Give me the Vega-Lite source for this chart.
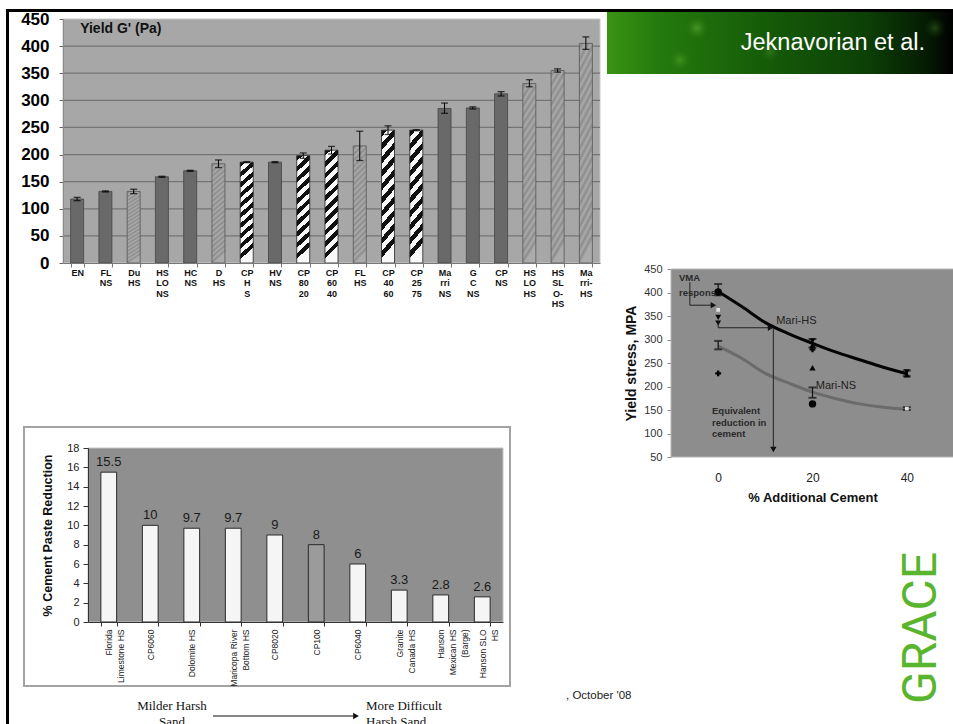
{
  "$schema": "https://vega.github.io/schema/vega-lite/v6.json",
  "width": 953,
  "height": 724,
  "autosize": {"type": "none"},
  "padding": 0,
  "background": "white",
  "config": {"font": "Liberation Sans", "view": {"stroke": null}},
  "resolve": {"scale": {"x": "independent", "y": "independent", "color": "independent"}, "axis": {"x": "independent", "y": "independent"}},
  "layer": [
    {
      "data": {"values": [{}]},
      "layer": [
        {"mark": {"type": "rect", "color": "#000000"},
         "encoding": {"x": {"datum": 6, "type": "quantitative", "scale": {"domain": [0, 953], "range": [0, 953], "nice": false, "zero": false}, "axis": null}, "x2": {"datum": 953},
                      "y": {"datum": 9, "type": "quantitative", "scale": {"domain": [0, 724], "range": [0, 724], "nice": false, "zero": false}, "axis": null}, "y2": {"datum": 12}}},
        {"mark": {"type": "rect", "color": "#000000"},
         "encoding": {"x": {"datum": 6, "type": "quantitative"}, "x2": {"datum": 9}, "y": {"datum": 9, "type": "quantitative"}, "y2": {"datum": 724}}},
        {"mark": {"type": "rect", "fill": {"gradient": "linear", "x1": 0, "y1": 0, "x2": 1, "y2": 0, "stops": [
            {"offset": 0, "color": "#3a9414"}, {"offset": 0.15, "color": "#247a0d"}, {"offset": 0.45, "color": "#165c08"}, {"offset": 0.75, "color": "#0c4006"}, {"offset": 0.92, "color": "#051c03"}, {"offset": 1, "color": "#000000"}]}},
         "encoding": {"x": {"datum": 607, "type": "quantitative"}, "x2": {"datum": 953}, "y": {"datum": 12, "type": "quantitative"}, "y2": {"datum": 74}}},
        {"mark": {"type": "point", "shape": "circle", "filled": true, "size": 500, "strokeWidth": 0, "opacity": 1,
            "fill": {"gradient": "radial", "x1": 0.5, "y1": 0.5, "r1": 0, "x2": 0.5, "y2": 0.5, "r2": 0.5, "stops": [{"offset": 0, "color": "rgba(120,200,70,0.45)"}, {"offset": 1, "color": "rgba(60,140,25,0)"}]}},
         "encoding": {"x": {"datum": 697, "type": "quantitative"}, "y": {"datum": 28, "type": "quantitative"}}},
        {"mark": {"type": "point", "shape": "circle", "filled": true, "size": 450, "strokeWidth": 0, "opacity": 1,
            "fill": {"gradient": "radial", "x1": 0.5, "y1": 0.5, "r1": 0, "x2": 0.5, "y2": 0.5, "r2": 0.5, "stops": [{"offset": 0, "color": "rgba(120,200,70,0.35)"}, {"offset": 1, "color": "rgba(60,140,25,0)"}]}},
         "encoding": {"x": {"datum": 680, "type": "quantitative"}, "y": {"datum": 60, "type": "quantitative"}}},
        {"mark": {"type": "point", "shape": "circle", "filled": true, "size": 450, "strokeWidth": 0, "opacity": 1,
            "fill": {"gradient": "radial", "x1": 0.5, "y1": 0.5, "r1": 0, "x2": 0.5, "y2": 0.5, "r2": 0.5, "stops": [{"offset": 0, "color": "rgba(90,160,50,0.35)"}, {"offset": 1, "color": "rgba(40,100,20,0)"}]}},
         "encoding": {"x": {"datum": 935, "type": "quantitative"}, "y": {"datum": 28, "type": "quantitative"}}},
        {"mark": {"type": "point", "shape": "circle", "filled": true, "size": 450, "strokeWidth": 0, "opacity": 1,
            "fill": {"gradient": "radial", "x1": 0.5, "y1": 0.5, "r1": 0, "x2": 0.5, "y2": 0.5, "r2": 0.5, "stops": [{"offset": 0, "color": "rgba(100,180,60,0.3)"}, {"offset": 1, "color": "rgba(40,100,20,0)"}]}},
         "encoding": {"x": {"datum": 770, "type": "quantitative"}, "y": {"datum": 52, "type": "quantitative"}}},
        {"mark": {"type": "text", "text": "Jeknavorian et al.", "align": "right", "baseline": "middle", "fontSize": 23.5, "color": "#ffffff"},
         "encoding": {"x": {"datum": 925, "type": "quantitative"}, "y": {"datum": 43, "type": "quantitative"}}},
        {"mark": {"type": "rect", "fill": "#ffffff", "stroke": "#a3a3a3", "strokeWidth": 2},
         "encoding": {"x": {"datum": 24, "type": "quantitative"}, "x2": {"datum": 510}, "y": {"datum": 427, "type": "quantitative"}, "y2": {"datum": 686}}},
        {"mark": {"type": "text", "text": ["Milder Harsh", "Sand"], "font": "Liberation Serif", "fontSize": 13, "align": "center", "baseline": "top", "lineHeight": 15.5, "color": "#111111"},
         "encoding": {"x": {"datum": 172, "type": "quantitative"}, "y": {"datum": 700, "type": "quantitative"}}},
        {"mark": {"type": "text", "text": ["More Difficult", "Harsh  Sand"], "font": "Liberation Serif", "fontSize": 13, "align": "left", "baseline": "top", "lineHeight": 15.5, "color": "#111111"},
         "encoding": {"x": {"datum": 366, "type": "quantitative"}, "y": {"datum": 700, "type": "quantitative"}}},
        {"mark": {"type": "rule", "color": "#111111", "strokeWidth": 1.2},
         "encoding": {"x": {"datum": 213, "type": "quantitative"}, "x2": {"datum": 353}, "y": {"datum": 716, "type": "quantitative"}}},
        {"mark": {"type": "point", "shape": "triangle-right", "filled": true, "size": 45, "color": "#111111", "opacity": 1},
         "encoding": {"x": {"datum": 356, "type": "quantitative"}, "y": {"datum": 716, "type": "quantitative"}}},
        {"mark": {"type": "text", "text": ", October '08", "fontSize": 11.5, "align": "left", "baseline": "middle", "color": "#222222"},
         "encoding": {"x": {"datum": 566, "type": "quantitative"}, "y": {"datum": 696, "type": "quantitative"}}},
        {"mark": {"type": "text", "text": "GRACE", "angle": 270, "align": "center", "baseline": "middle", "font": "Roboto", "fontSize": 48, "fontWeight": 400, "color": "#5ab52e"},
         "encoding": {"x": {"datum": 922, "type": "quantitative"}, "y": {"datum": 628, "type": "quantitative"}}}
      ]
    },
    {
      "layer": [
        {"data": {"values": [{}]},
         "mark": {"type": "rect", "fill": "#a7a7a7", "stroke": "#c8c8c8", "strokeWidth": 1},
         "encoding": {"x": {"datum": 0, "type": "quantitative", "scale": {"domain": [0, 1], "range": [63, 600], "nice": false, "zero": false}, "axis": null}, "x2": {"datum": 1},
                      "y": {"datum": 0, "type": "quantitative", "scale": {"domain": [0, 450], "range": [263, 19], "nice": false, "zero": false}, "axis": null}, "y2": {"datum": 450}}},
        {"data": {"values": [{"g": 50}, {"g": 100}, {"g": 150}, {"g": 200}, {"g": 250}, {"g": 300}, {"g": 350}, {"g": 400}]},
         "mark": {"type": "rule", "color": "#747474", "strokeWidth": 1.3},
         "encoding": {"x": {"datum": 0, "type": "quantitative", "axis": null}, "x2": {"datum": 1}, "y": {"field": "g", "type": "quantitative", "axis": null}}}
      ]
    },
    {
      "data": {"values": [
        {"sample": "EN", "series": "NS", "yield": 118, "lo": 115, "hi": 121},
        {"sample": "FL|NS", "series": "NS", "yield": 132, "lo": 131, "hi": 133},
        {"sample": "Du|HS", "series": "HS", "yield": 132, "lo": 128, "hi": 136},
        {"sample": "HS|LO|NS", "series": "NS", "yield": 159, "lo": 158, "hi": 160},
        {"sample": "HC|NS", "series": "NS", "yield": 170, "lo": 169, "hi": 171},
        {"sample": "D|HS", "series": "HS", "yield": 183, "lo": 176, "hi": 190},
        {"sample": "CP|H|S", "series": "CP", "yield": 186, "lo": 185, "hi": 187},
        {"sample": "HV|NS", "series": "NS", "yield": 186, "lo": 185, "hi": 187},
        {"sample": "CP|80|20", "series": "CP", "yield": 198, "lo": 193, "hi": 203},
        {"sample": "CP|60|40", "series": "CP", "yield": 208, "lo": 201, "hi": 215},
        {"sample": "FL|HS", "series": "HS", "yield": 216, "lo": 189, "hi": 243},
        {"sample": "CP|40|60", "series": "CP", "yield": 245, "lo": 237, "hi": 253},
        {"sample": "CP|25|75", "series": "CP", "yield": 245, "lo": 244, "hi": 246},
        {"sample": "Ma|rri|NS", "series": "NS", "yield": 285, "lo": 276, "hi": 295},
        {"sample": "G|C|NS", "series": "NS", "yield": 286, "lo": 284, "hi": 288},
        {"sample": "CP|NS", "series": "NS", "yield": 312, "lo": 308, "hi": 316},
        {"sample": "HS|LO|HS", "series": "HS", "yield": 331, "lo": 325, "hi": 338},
        {"sample": "HS|SL|O-|HS", "series": "HS", "yield": 355, "lo": 352, "hi": 358},
        {"sample": "Ma|rri-|HS", "series": "HS", "yield": 405, "lo": 394, "hi": 417}
      ]},
      "encoding": {
        "x": {
          "field": "sample", "type": "nominal",
          "scale": {"domain": ["EN","FL|NS","Du|HS","HS|LO|NS","HC|NS","D|HS","CP|H|S","HV|NS","CP|80|20","CP|60|40","FL|HS","CP|40|60","CP|25|75","Ma|rri|NS","G|C|NS","CP|NS","HS|LO|HS","HS|SL|O-|HS","Ma|rri-|HS"], "range": [63, 600], "paddingInner": 0.54, "paddingOuter": 0.27},
          "axis": {"orient": "bottom", "offset": -461, "zindex": 1, "title": null, "labelAngle": 0, "labelExpr": "datum.value ? split(datum.value, '|') : ''", "labelFontSize": 9, "labelFontWeight": "bold", "labelColor": "#111111", "labelLineHeight": 10.5, "labelPadding": 1, "labelBaseline": "top", "tickBand": "extent", "tickSize": 4, "tickColor": "#777777", "domainColor": "#777777"}
        }
      },
      "layer": [
        {
          "transform": [{"filter": "datum.series === 'NS'"}],
          "mark": {"type": "bar", "fill": "#696969", "stroke": "#454545", "strokeWidth": 0.8},
          "encoding": {"y": {"field": "yield", "type": "quantitative", "scale": {"domain": [0, 450], "range": [263, 19], "nice": false},
            "axis": {"orient": "left", "offset": -63, "zindex": 1, "title": null, "values": [0,50,100,150,200,250,300,350,400,450], "grid": false, "labelFontSize": 17, "labelFontWeight": "bold", "labelColor": "#000000", "tickSize": 4, "tickColor": "#666666", "labelPadding": 10, "domainColor": "#8a8a8a"}}}
        },
        {
          "transform": [{"filter": "datum.series === 'HS'"}],
          "mark": {"type": "bar", "stroke": "#555555", "strokeWidth": 0.8, "fill": {"gradient": "linear", "x1": 0, "y1": 0, "x2": 0.113, "y2": 1, "stops": [
            {"offset": 0, "color": "#ababab"},{"offset": 0.025, "color": "#8c8c8c"},{"offset": 0.05, "color": "#ababab"},{"offset": 0.075, "color": "#8c8c8c"},
            {"offset": 0.1, "color": "#ababab"},{"offset": 0.125, "color": "#8c8c8c"},{"offset": 0.15, "color": "#ababab"},{"offset": 0.175, "color": "#8c8c8c"},
            {"offset": 0.2, "color": "#ababab"},{"offset": 0.225, "color": "#8c8c8c"},{"offset": 0.25, "color": "#ababab"},{"offset": 0.275, "color": "#8c8c8c"},
            {"offset": 0.3, "color": "#ababab"},{"offset": 0.325, "color": "#8c8c8c"},{"offset": 0.35, "color": "#ababab"},{"offset": 0.375, "color": "#8c8c8c"},
            {"offset": 0.4, "color": "#ababab"},{"offset": 0.425, "color": "#8c8c8c"},{"offset": 0.45, "color": "#ababab"},{"offset": 0.475, "color": "#8c8c8c"},
            {"offset": 0.5, "color": "#ababab"},{"offset": 0.525, "color": "#8c8c8c"},{"offset": 0.55, "color": "#ababab"},{"offset": 0.575, "color": "#8c8c8c"},
            {"offset": 0.6, "color": "#ababab"},{"offset": 0.625, "color": "#8c8c8c"},{"offset": 0.65, "color": "#ababab"},{"offset": 0.675, "color": "#8c8c8c"},
            {"offset": 0.7, "color": "#ababab"},{"offset": 0.725, "color": "#8c8c8c"},{"offset": 0.75, "color": "#ababab"},{"offset": 0.775, "color": "#8c8c8c"},
            {"offset": 0.8, "color": "#ababab"},{"offset": 0.825, "color": "#8c8c8c"},{"offset": 0.85, "color": "#ababab"},{"offset": 0.875, "color": "#8c8c8c"},
            {"offset": 0.9, "color": "#ababab"},{"offset": 0.925, "color": "#8c8c8c"},{"offset": 0.95, "color": "#ababab"},{"offset": 0.975, "color": "#8c8c8c"},
            {"offset": 1, "color": "#ababab"}]}},
          "encoding": {"y": {"field": "yield", "type": "quantitative"}}
        },
        {
          "transform": [{"filter": "datum.series === 'CP'"}],
          "mark": {"type": "bar", "stroke": "#222222", "strokeWidth": 0.8, "fill": {"gradient": "linear", "x1": 0, "y1": 0, "x2": 0.113, "y2": 1, "stops": [
            {"offset": 0, "color": "#111111"},{"offset": 0.05, "color": "#111111"},{"offset": 0.05, "color": "#f8f8f8"},{"offset": 0.1, "color": "#f8f8f8"},
            {"offset": 0.1, "color": "#111111"},{"offset": 0.15, "color": "#111111"},{"offset": 0.15, "color": "#f8f8f8"},{"offset": 0.2, "color": "#f8f8f8"},
            {"offset": 0.2, "color": "#111111"},{"offset": 0.25, "color": "#111111"},{"offset": 0.25, "color": "#f8f8f8"},{"offset": 0.3, "color": "#f8f8f8"},
            {"offset": 0.3, "color": "#111111"},{"offset": 0.35, "color": "#111111"},{"offset": 0.35, "color": "#f8f8f8"},{"offset": 0.4, "color": "#f8f8f8"},
            {"offset": 0.4, "color": "#111111"},{"offset": 0.45, "color": "#111111"},{"offset": 0.45, "color": "#f8f8f8"},{"offset": 0.5, "color": "#f8f8f8"},
            {"offset": 0.5, "color": "#111111"},{"offset": 0.55, "color": "#111111"},{"offset": 0.55, "color": "#f8f8f8"},{"offset": 0.6, "color": "#f8f8f8"},
            {"offset": 0.6, "color": "#111111"},{"offset": 0.65, "color": "#111111"},{"offset": 0.65, "color": "#f8f8f8"},{"offset": 0.7, "color": "#f8f8f8"},
            {"offset": 0.7, "color": "#111111"},{"offset": 0.75, "color": "#111111"},{"offset": 0.75, "color": "#f8f8f8"},{"offset": 0.8, "color": "#f8f8f8"},
            {"offset": 0.8, "color": "#111111"},{"offset": 0.85, "color": "#111111"},{"offset": 0.85, "color": "#f8f8f8"},{"offset": 0.9, "color": "#f8f8f8"},
            {"offset": 0.9, "color": "#111111"},{"offset": 0.95, "color": "#111111"},{"offset": 0.95, "color": "#f8f8f8"},{"offset": 1, "color": "#f8f8f8"}]}},
          "encoding": {"y": {"field": "yield", "type": "quantitative"}}
        },
        {
          "mark": {"type": "rule", "color": "#000000", "strokeWidth": 1},
          "encoding": {"y": {"field": "lo", "type": "quantitative"}, "y2": {"field": "hi"}}
        },
        {
          "mark": {"type": "tick", "color": "#000000", "thickness": 1.3, "size": 7, "orient": "horizontal"},
          "encoding": {"y": {"field": "lo", "type": "quantitative"}}
        },
        {
          "mark": {"type": "tick", "color": "#000000", "thickness": 1.3, "size": 7, "orient": "horizontal"},
          "encoding": {"y": {"field": "hi", "type": "quantitative"}}
        },
        {
          "data": {"values": [{"t": "Yield G' (Pa)"}]},
          "mark": {"type": "text", "align": "left", "baseline": "middle", "fontSize": 14, "fontWeight": "bold", "color": "#111111", "dx": 3},
          "encoding": {"x": {"datum": "EN", "type": "nominal"}, "y": {"datum": 432, "type": "quantitative"}, "text": {"field": "t"}}
        }
      ]
    },
    {
      "layer": [
        {"data": {"values": [{}]},
         "mark": {"type": "rect", "fill": "#8f8f8f", "stroke": "#c4c4c4", "strokeWidth": 1},
         "encoding": {"x": {"datum": 0, "type": "quantitative", "scale": {"domain": [0, 1], "range": [88, 503], "nice": false, "zero": false}, "axis": null}, "x2": {"datum": 1},
                      "y": {"datum": 0, "type": "quantitative", "scale": {"domain": [0, 18], "range": [622, 448], "nice": false, "zero": false}, "axis": null}, "y2": {"datum": 18}}}
      ]
    },
    {
      "data": {"values": [
        {"site": "Florida|Limestone HS", "reduction": 15.5},
        {"site": "CP6060", "reduction": 10},
        {"site": "Dolomite HS", "reduction": 9.7},
        {"site": "Maricopa River|Bottom HS", "reduction": 9.7},
        {"site": "CP8020", "reduction": 9},
        {"site": "CP100", "reduction": 8},
        {"site": "CP6040", "reduction": 6},
        {"site": "Granite|Canada HS", "reduction": 3.3},
        {"site": "Hanson|Mexican HS|(Barge)", "reduction": 2.8},
        {"site": "Hanson SLO|HS", "reduction": 2.6}
      ]},
      "encoding": {
        "x": {"field": "site", "type": "nominal", "sort": null, "scale": {"range": [88, 503], "paddingInner": 0.62, "paddingOuter": 0.31},
          "axis": {"orient": "bottom", "offset": -102, "zindex": 1, "title": null, "labelAngle": -90, "labelAlign": "right", "labelBaseline": "middle", "labelExpr": "datum.value ? split(datum.value, '|') : ''", "labelFontSize": 8.5, "labelColor": "#222222", "labelLineHeight": 12, "labelPadding": 3, "labelLimit": 0, "tickBand": "extent", "tickSize": 4, "tickColor": "#333333", "domainColor": "#333333"}},
        "y": {"field": "reduction", "type": "quantitative", "scale": {"domain": [0, 18], "range": [622, 448], "nice": false},
          "axis": {"orient": "left", "offset": -88, "zindex": 1, "values": [0,2,4,6,8,10,12,14,16,18], "title": "% Cement Paste Reduction", "titleFontSize": 12.5, "titleFontWeight": "bold", "titleColor": "#111111", "titlePadding": 12, "labelFontSize": 11, "labelColor": "#222222", "labelPadding": 4, "tickSize": 5, "tickColor": "#333333", "domainColor": "#333333", "grid": false}}
      },
      "layer": [
        {
          "mark": {"type": "bar", "stroke": "#2a2a2a", "strokeWidth": 1},
          "encoding": {"color": {"condition": {"test": "datum.site === 'CP100'", "value": "#9b9b9b"}, "value": "#f5f5f5"}}
        },
        {
          "mark": {"type": "text", "dy": -10, "fontSize": 13, "color": "#1a1a1a", "baseline": "middle"},
          "encoding": {"text": {"field": "reduction", "type": "quantitative", "format": "~g"}}
        }
      ]
    },
    {
      "layer": [
        {
          "data": {"values": [{}]},
          "mark": {"type": "rect", "fill": "#8d8d8d", "stroke": "#b5b5b5", "strokeWidth": 1},
          "encoding": {"x": {"datum": -10, "type": "quantitative"}, "x2": {"datum": 50}, "y": {"datum": 50, "type": "quantitative"}, "y2": {"datum": 450}}
        },
        {
          "data": {"values": [
            {"series": "Mari-HS", "x": 0, "y": 402}, {"series": "Mari-HS", "x": 5, "y": 370}, {"series": "Mari-HS", "x": 10, "y": 336},
            {"series": "Mari-HS", "x": 15, "y": 312}, {"series": "Mari-HS", "x": 20, "y": 292}, {"series": "Mari-HS", "x": 25, "y": 273},
            {"series": "Mari-HS", "x": 30, "y": 257}, {"series": "Mari-HS", "x": 35, "y": 241}, {"series": "Mari-HS", "x": 40, "y": 227},
            {"series": "Mari-NS", "x": 0, "y": 286}, {"series": "Mari-NS", "x": 5, "y": 260}, {"series": "Mari-NS", "x": 10, "y": 228},
            {"series": "Mari-NS", "x": 15, "y": 207}, {"series": "Mari-NS", "x": 20, "y": 188}, {"series": "Mari-NS", "x": 25, "y": 174},
            {"series": "Mari-NS", "x": 30, "y": 163}, {"series": "Mari-NS", "x": 35, "y": 156}, {"series": "Mari-NS", "x": 40, "y": 152}
          ]},
          "mark": {"type": "line", "interpolate": "monotone", "strokeWidth": 3},
          "encoding": {
            "x": {"field": "x", "type": "quantitative", "scale": {"domain": [-10, 50], "range": [671, 954], "nice": false, "zero": false},
              "axis": {"orient": "bottom", "offset": -267, "values": [0, 20, 40], "ticks": false, "domain": false, "grid": false, "labelFontSize": 12, "labelColor": "#222222", "labelPadding": 15, "title": "% Additional  Cement", "titleFontSize": 13, "titleFontWeight": "bold", "titleColor": "#111111", "titlePadding": 8}},
            "y": {"field": "y", "type": "quantitative", "scale": {"domain": [50, 450], "range": [457, 269], "nice": false, "zero": false},
              "axis": {"orient": "left", "offset": -671, "values": [50,100,150,200,250,300,350,400,450], "grid": false, "domain": false, "tickSize": 4, "tickColor": "#888888", "labelFontSize": 11, "labelColor": "#333333", "labelPadding": 5, "title": "Yield stress, MPA", "titleFontSize": 14, "titleFontWeight": "bold", "titleColor": "#111111", "titlePadding": 5}},
            "color": {"field": "series", "type": "nominal", "scale": {"domain": ["Mari-HS", "Mari-NS"], "range": ["#050505", "#6b6b6b"]}, "legend": null}
          }
        },
        {
          "data": {"values": [
            {"x": 0, "lo": 394, "hi": 418}, {"x": 20, "lo": 283, "hi": 301}, {"x": 40, "lo": 222, "hi": 234},
            {"x": 0, "lo": 279, "hi": 297}, {"x": 20, "lo": 176, "hi": 198}, {"x": 40, "lo": 150, "hi": 156}
          ]},
          "layer": [
            {"mark": {"type": "rule", "color": "#111111", "strokeWidth": 1.2}, "encoding": {"x": {"field": "x", "type": "quantitative"}, "y": {"field": "lo", "type": "quantitative"}, "y2": {"field": "hi"}}},
            {"mark": {"type": "tick", "orient": "horizontal", "size": 8, "thickness": 2, "color": "#111111"}, "encoding": {"x": {"field": "x", "type": "quantitative"}, "y": {"field": "lo", "type": "quantitative"}}},
            {"mark": {"type": "tick", "orient": "horizontal", "size": 8, "thickness": 2, "color": "#111111"}, "encoding": {"x": {"field": "x", "type": "quantitative"}, "y": {"field": "hi", "type": "quantitative"}}}
          ]
        },
        {
          "data": {"values": [{"x": 0, "y": 401}, {"x": 20, "y": 163}]},
          "mark": {"type": "point", "shape": "circle", "filled": true, "size": 55, "color": "#050505", "opacity": 1},
          "encoding": {"x": {"field": "x", "type": "quantitative"}, "y": {"field": "y", "type": "quantitative"}}
        },
        {
          "data": {"values": [{"x": 0, "y": 347}, {"x": 0, "y": 335}, {"x": 20, "y": 297}, {"x": 40, "y": 231}]},
          "mark": {"type": "point", "shape": "triangle-down", "filled": true, "size": 35, "color": "#050505", "opacity": 1},
          "encoding": {"x": {"field": "x", "type": "quantitative"}, "y": {"field": "y", "type": "quantitative"}}
        },
        {
          "data": {"values": [{"x": 20, "y": 240}, {"x": 20, "y": 288}, {"x": 40, "y": 225}]},
          "mark": {"type": "point", "shape": "triangle-up", "filled": true, "size": 40, "color": "#050505", "opacity": 1},
          "encoding": {"x": {"field": "x", "type": "quantitative"}, "y": {"field": "y", "type": "quantitative"}}
        },
        {
          "data": {"values": [{"x": 0, "y": 228}, {"x": 20, "y": 279}]},
          "mark": {"type": "point", "shape": "cross", "filled": true, "size": 35, "color": "#050505", "opacity": 1},
          "encoding": {"x": {"field": "x", "type": "quantitative"}, "y": {"field": "y", "type": "quantitative"}}
        },
        {
          "data": {"values": [{"x": 0, "y": 363}, {"x": 40, "y": 153}]},
          "mark": {"type": "point", "shape": "square", "filled": true, "size": 14, "color": "#dddddd", "opacity": 1},
          "encoding": {"x": {"field": "x", "type": "quantitative"}, "y": {"field": "y", "type": "quantitative"}}
        },
        {
          "data": {"values": [
            {"x": -6, "y": 422, "x2": -6, "y2": 373},
            {"x": -6, "y": 373, "x2": -1.5, "y2": 373},
            {"x": 0, "y": 340, "x2": 0, "y2": 325},
            {"x": 0, "y": 325, "x2": 11, "y2": 325},
            {"x": 11.7, "y": 325, "x2": 11.7, "y2": 69}
          ]},
          "mark": {"type": "rule", "color": "#222222", "strokeWidth": 1},
          "encoding": {"x": {"field": "x", "type": "quantitative"}, "y": {"field": "y", "type": "quantitative"}, "x2": {"field": "x2"}, "y2": {"field": "y2"}}
        },
        {
          "data": {"values": [{"x": -1, "y": 373}, {"x": 11.1, "y": 325}]},
          "mark": {"type": "point", "shape": "triangle-right", "filled": true, "size": 40, "color": "#111111", "opacity": 1},
          "encoding": {"x": {"field": "x", "type": "quantitative"}, "y": {"field": "y", "type": "quantitative"}}
        },
        {
          "data": {"values": [{"x": 11.7, "y": 66}]},
          "mark": {"type": "point", "shape": "triangle-down", "filled": true, "size": 40, "color": "#111111", "opacity": 1},
          "encoding": {"x": {"field": "x", "type": "quantitative"}, "y": {"field": "y", "type": "quantitative"}}
        },
        {
          "data": {"values": [
            {"t": "VMA", "x": -8.3, "y": 431}, {"t": "respons", "x": -8.3, "y": 400},
            {"t": "Equivalent", "x": -1.3, "y": 148}, {"t": "reduction in", "x": -1.3, "y": 123}, {"t": "cement", "x": -1.3, "y": 100}
          ]},
          "mark": {"type": "text", "align": "left", "baseline": "middle", "fontSize": 9.5, "fontWeight": "bold", "color": "#2a2a2a"},
          "encoding": {"x": {"field": "x", "type": "quantitative"}, "y": {"field": "y", "type": "quantitative"}, "text": {"field": "t"}}
        },
        {
          "data": {"values": [{"t": "Mari-HS", "x": 12.3, "y": 340}, {"t": "Mari-NS", "x": 20.7, "y": 201}]},
          "mark": {"type": "text", "align": "left", "baseline": "middle", "fontSize": 11, "color": "#222222"},
          "encoding": {"x": {"field": "x", "type": "quantitative"}, "y": {"field": "y", "type": "quantitative"}, "text": {"field": "t"}}
        }
      ]
    }
  ]
}
